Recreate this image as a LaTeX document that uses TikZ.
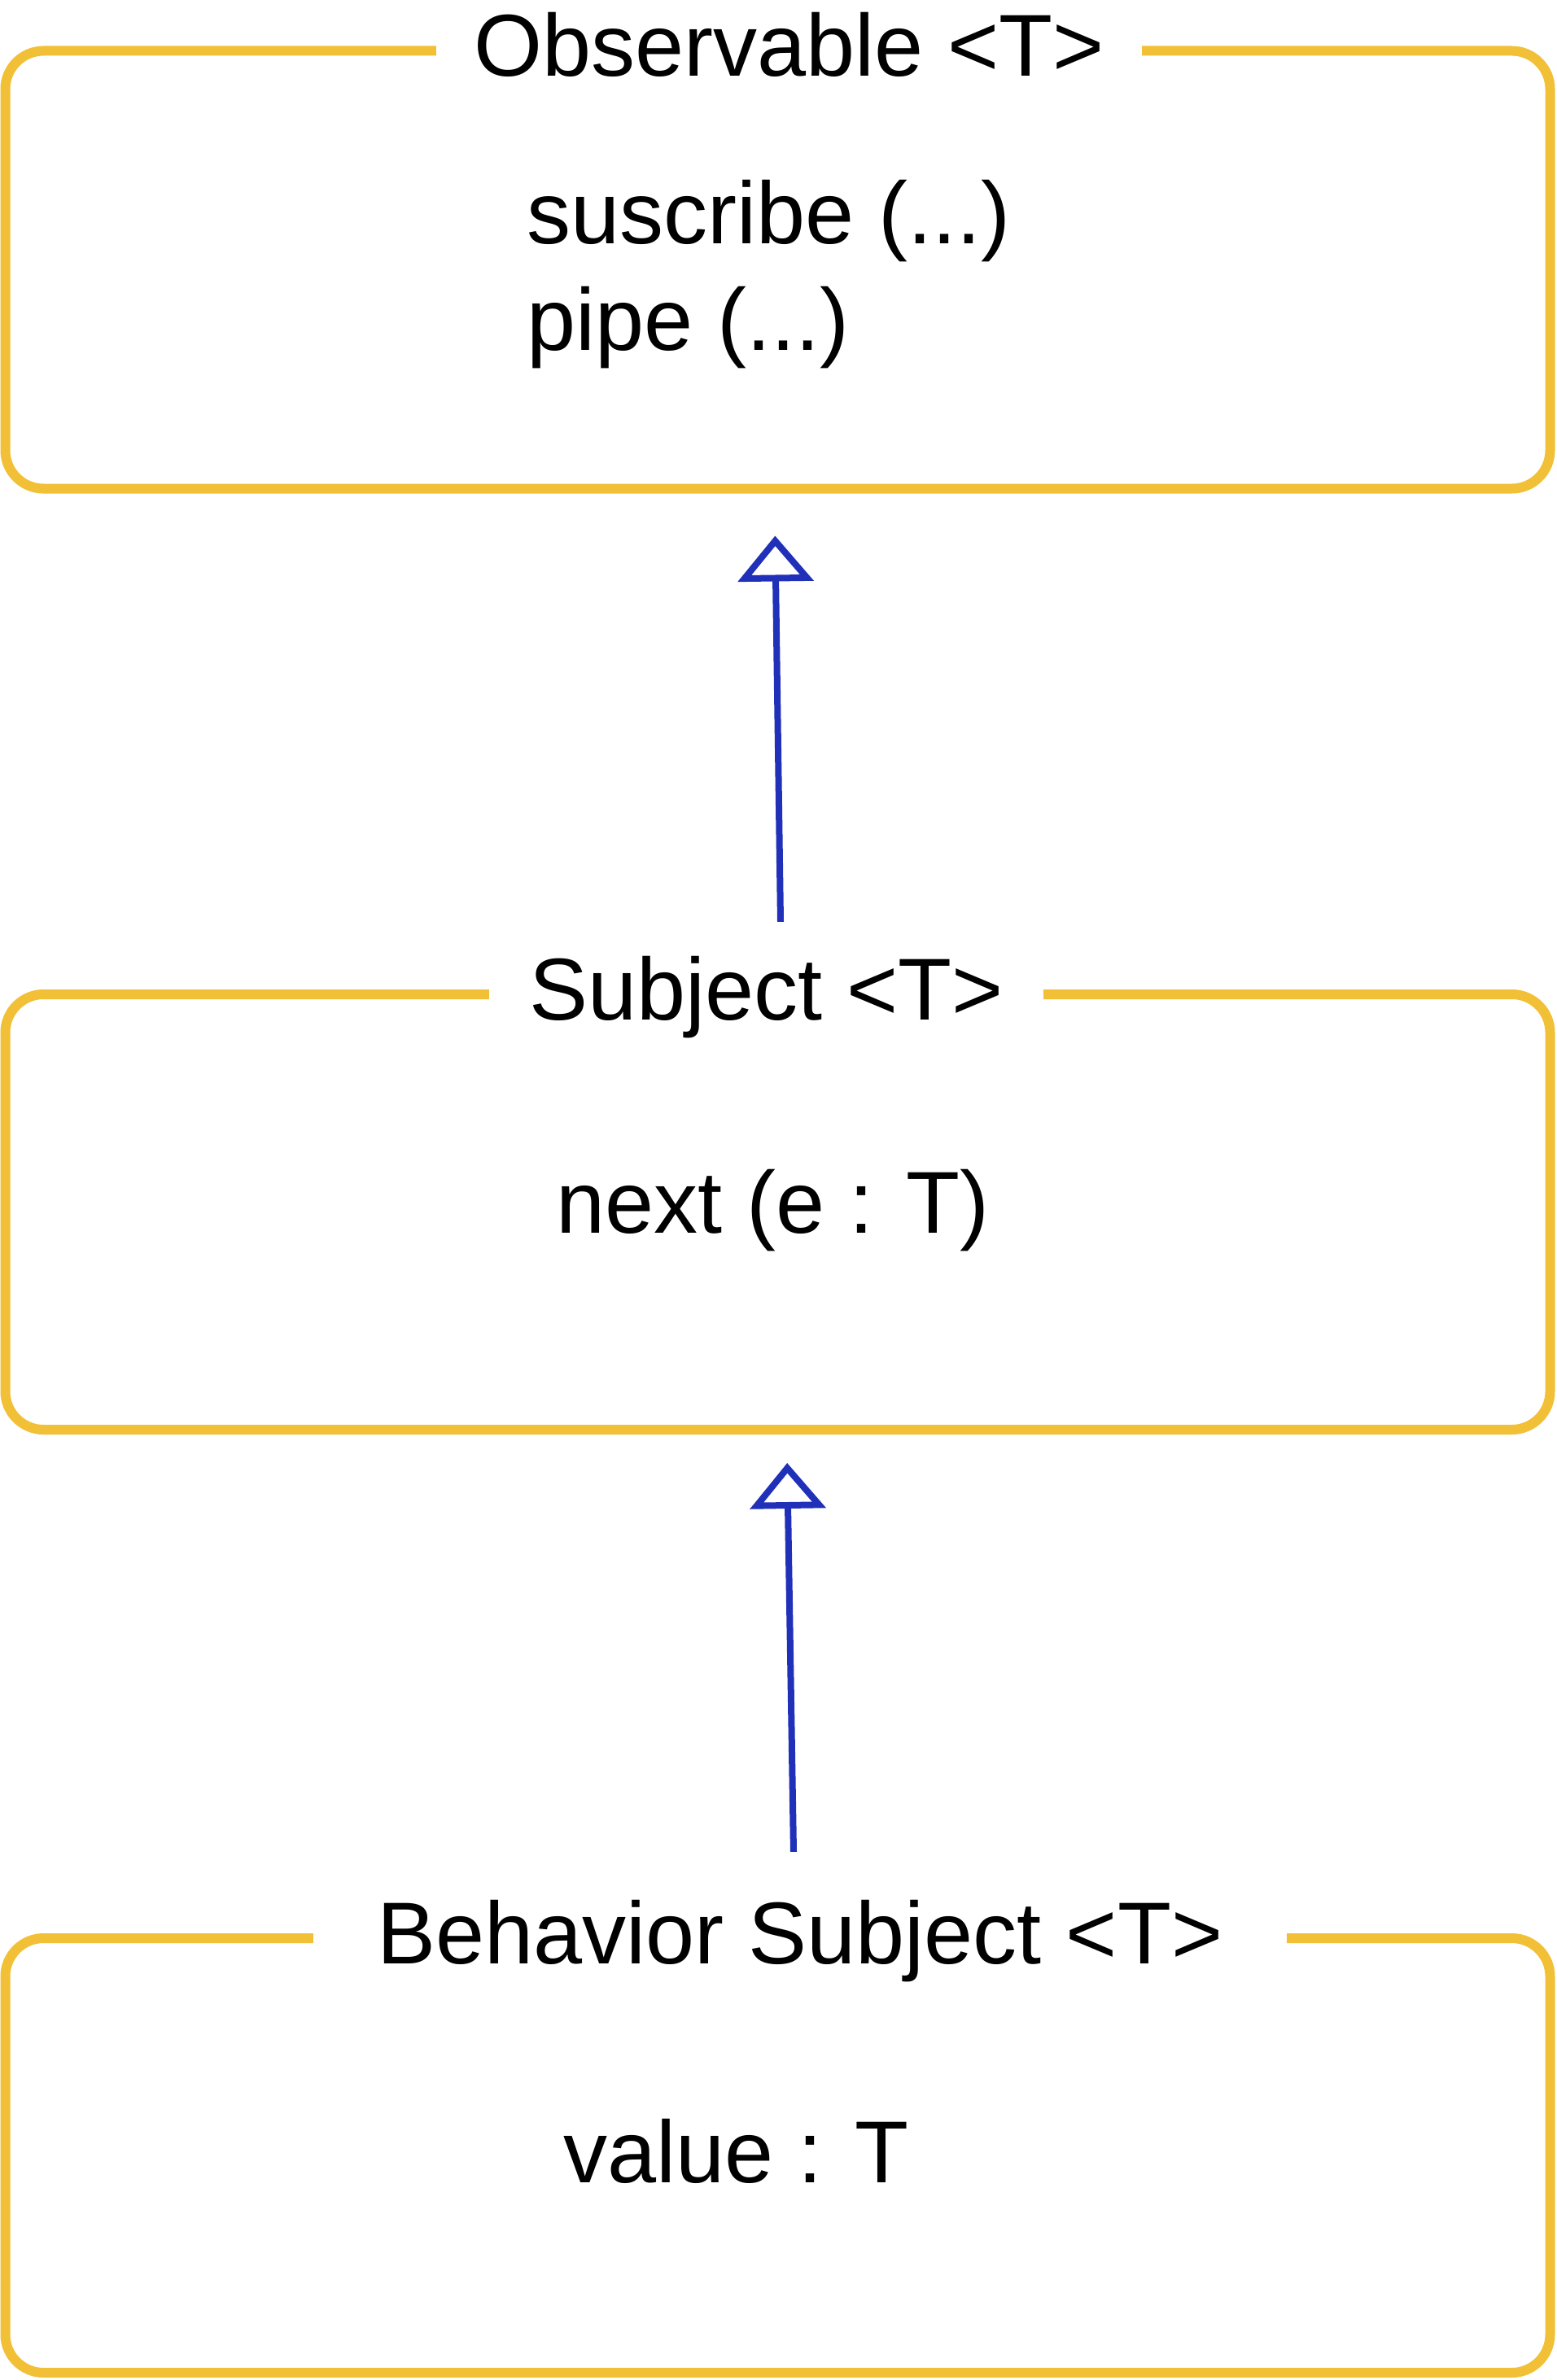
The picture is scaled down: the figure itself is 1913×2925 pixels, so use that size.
\documentclass[tikz,border=0pt]{standalone}
\usepackage{fontspec}
\setmainfont{Liberation Sans}
\usepackage{tikz}
\usetikzlibrary{arrows.meta,positioning}

\definecolor{frameyellow}{RGB}{242,192,55}
\definecolor{inheritblue}{RGB}{32,48,184}

\begin{document}
\begin{tikzpicture}[
  x=1pt, y=-1pt,
  classbox/.style={
    draw=frameyellow,
    line width=12pt,
    rounded corners=47pt,
    anchor=north west,
    minimum width=1898pt,
    inner sep=0pt,
    outer sep=0pt
  },
  classname/.style={
    fill=white,
    anchor=base,
    inner xsep=0pt,
    inner ysep=4pt,
    text height=80pt,
    text depth=24pt,
    font=\fontsize{108pt}{131pt}\selectfont
  },
  member/.style={
    anchor=base west,
    inner sep=0pt,
    font=\fontsize{108pt}{131pt}\selectfont
  },
  inherit/.style={
    -{Triangle[open,length=56pt,width=92pt]},
    line width=8pt,
    inheritblue
  }
]
\useasboundingbox (0,0) rectangle (1913,2925);

% Observable
\node[classbox, minimum height=538pt] (obs) at (6.5,62.5) {};
\node[classname, minimum width=867pt] (obsT) at (969.5,93.5)
  {Observable <T>};
\node[member] (obsSub) at (647,299) {suscribe (...)};
\node[member] (obsPipe) at (647,430) {pipe (...)};

% Subject
\node[classbox, minimum height=535pt] (sub) at (6.5,1222) {};
\node[classname, minimum width=681pt] (subT) at (941.5,1253)
  {Subject <T>};
\node[member] (subNext) at (683,1515) {next (e : T)};

% Behavior Subject
\node[classbox, minimum height=534pt] (beh) at (6.5,2382) {};
\node[classname, minimum width=1196pt] (behT) at (983,2413)
  {Behavior Subject <T>};
\node[member] (behVal) at (692,2682) {value : T};

% Inheritance
\draw[inherit, shorten >=58pt]
  ([xshift=17.5pt,yshift=36pt]subT.north) -- ([xshift=-4pt]obs.south);
\draw[inherit, shorten >=41pt]
  ([xshift=-8pt,yshift=53pt]behT.north) -- ([xshift=11pt]sub.south);

\end{tikzpicture}
\end{document}
